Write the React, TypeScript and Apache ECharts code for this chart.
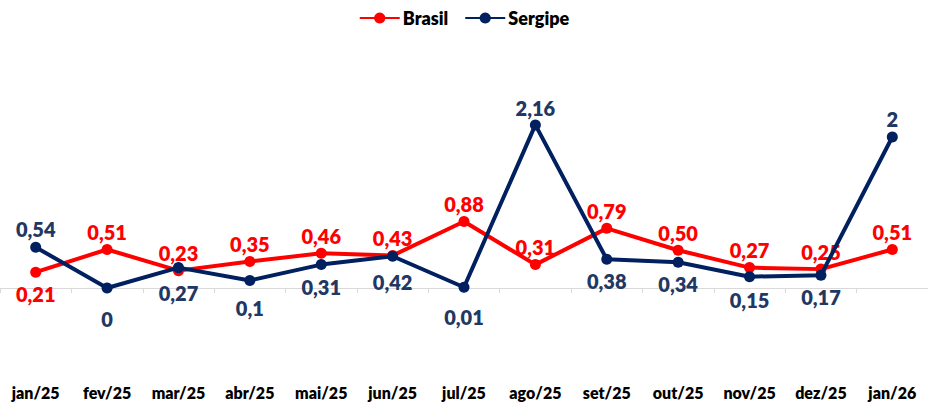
import React, { useEffect, useRef } from "react";
import * as echarts from "echarts";

const categories = ["jan/25", "fev/25", "mar/25", "abr/25", "mai/25", "jun/25", "jul/25", "ago/25", "set/25", "out/25", "nov/25", "dez/25", "jan/26"];
const brasil = [0.21, 0.51, 0.23, 0.35, 0.46, 0.43, 0.88, 0.31, 0.79, 0.5, 0.27, 0.25, 0.51];
const sergipe = [0.54, 0, 0.27, 0.1, 0.31, 0.42, 0.01, 2.16, 0.38, 0.34, 0.15, 0.17, 2];

// label placement per point (style, not data)
const brasilLabelPos = ["bottom", "top", "top", "top", "top", "top", "top", "top", "top", "top", "top", "top", "top"];
const sergipeLabelPos = ["top", "bottom", "bottom", "bottom", "bottom", "bottom", "bottom", "top", "bottom", "bottom", "bottom", "bottom", "top"];
const sergipeLabelDist = [3, 15, 10, 12, 7, 10, 14, 1, 6, 6, 8, 6, 3];

const RED = "#FF0000";
const NAVY = "#002060";
const NAVY_TEXT = "#1F3864";
const FONT = "Lato, 'Open Sans', sans-serif";

export default function App() {
  const ref = useRef<HTMLDivElement>(null);
  useEffect(() => {
    if (!ref.current) return;
    const chart = echarts.init(ref.current, undefined, { renderer: "svg" });
    const brasilData = brasil.map((v, i) => ({
      value: v,
      label: { position: brasilLabelPos[i], distance: brasilLabelPos[i] === "bottom" ? 6 : 2 },
    }));
    const sergipeData = sergipe.map((v, i) => ({
      value: v,
      label: { position: sergipeLabelPos[i], distance: sergipeLabelDist[i] },
    }));
    chart.setOption({
      animation: false,
      backgroundColor: "#FFFFFF",
      textStyle: { fontFamily: FONT },
      legend: {
        top: 4,
        left: "center",
        itemWidth: 40,
        itemHeight: 14,
        itemGap: 16,
        textStyle: { fontFamily: FONT, fontWeight: 800, fontSize: 18, color: "#000000", padding: [0, 0, 0, -2] },
        data: ["Brasil", "Sergipe"],
      },
      grid: { left: -4.25, right: -10.25, top: 99.25, bottom: 26.4, containLabel: false },
      xAxis: [
        {
          type: "category",
          data: categories,
          boundaryGap: true,
          position: "bottom",
          axisLine: { show: false, onZero: false },
          axisTick: { show: false },
          axisLabel: { fontFamily: FONT, fontWeight: 800, fontSize: 16, color: "#000000", margin: 6 },
        },
        {
          type: "category",
          data: categories,
          boundaryGap: true,
          position: "bottom",
          axisLine: { show: true, onZero: true, lineStyle: { color: "#D9D9D9", width: 1 } },
          axisTick: { show: true, length: 5, lineStyle: { color: "#D9D9D9" } },
          axisLabel: { show: false },
        },
      ],
      yAxis: {
        type: "value",
        min: -1.2,
        max: 2.5,
        show: false,
        splitLine: { show: false },
      },
      series: [
        {
          name: "Brasil",
          type: "line",
          xAxisIndex: 0,
          data: brasilData,
          symbol: "circle",
          symbolSize: 11,
          itemStyle: { color: RED },
          lineStyle: { color: RED, width: 4 },
          label: {
            show: true,
            fontFamily: FONT,
            fontWeight: 800,
            fontSize: 20,
            color: RED,
            formatter: (p: any) => p.value.toFixed(2).replace(".", ","),
          },
          z: 2,
        },
        {
          name: "Sergipe",
          type: "line",
          xAxisIndex: 0,
          data: sergipeData,
          symbol: "circle",
          symbolSize: 11,
          itemStyle: { color: NAVY },
          lineStyle: { color: NAVY, width: 4 },
          label: {
            show: true,
            fontFamily: FONT,
            fontWeight: 800,
            fontSize: 20,
            color: NAVY_TEXT,
            formatter: (p: any) => String(p.value).replace(".", ","),
          },
          z: 3,
        },
      ],
    });
    return () => chart.dispose();
  }, []);
  return <div ref={ref} style={{ position: "absolute", left: 0, top: 0, width: 928, height: 405 }} />;
}
